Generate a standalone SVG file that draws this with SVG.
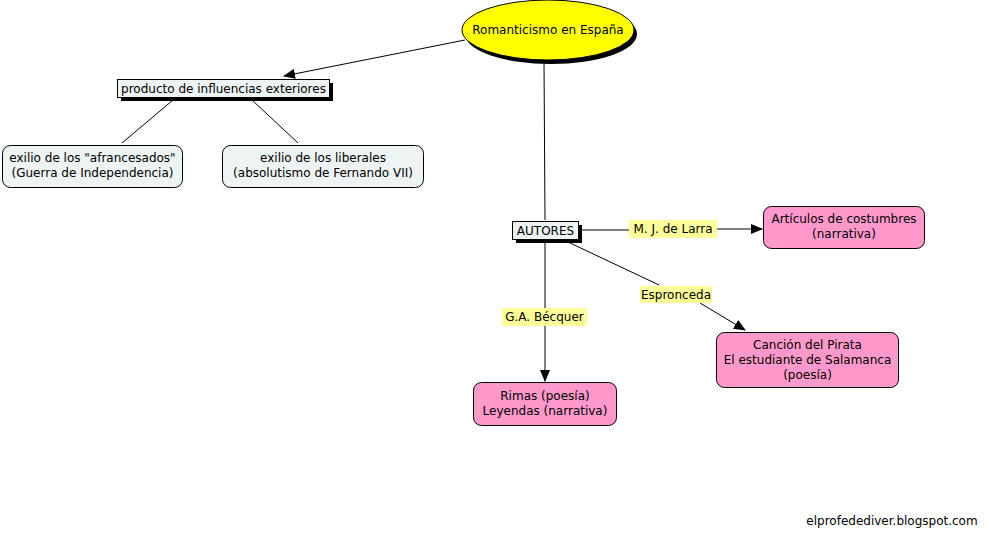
<svg xmlns="http://www.w3.org/2000/svg" width="989" height="538" viewBox="0 0 989 538">
<defs>
<marker id="ah" markerWidth="12" markerHeight="10" refX="11" refY="5" orient="auto" markerUnits="userSpaceOnUse">
<path d="M0,0 L12,5 L0,10 Z" fill="#000"/>
</marker>
<style>
text{font-family:"DejaVu Sans",Verdana,sans-serif;font-size:12px;fill:#000;text-anchor:middle}
.ln{stroke:#000;stroke-width:1;fill:none}
.sh{fill:#000}
.cl{fill:#eef4f4;stroke:#000;stroke-width:1}
.pk{fill:#ff99cc;stroke:#000;stroke-width:1}
.lb{fill:#ffff99}
</style>
</defs>
<rect width="989" height="538" fill="#fff"/>
<g id="connectors">
<line class="ln" x1="465" y1="40" x2="284" y2="76" marker-end="url(#ah)"/>
<line class="ln" x1="544" y1="62" x2="545" y2="220"/>
<line class="ln" x1="173" y1="100" x2="122" y2="143"/>
<line class="ln" x1="252" y1="100" x2="298" y2="143"/>
<line class="ln" x1="580" y1="230" x2="630" y2="230"/>
<line class="ln" x1="716" y1="229" x2="762" y2="229" marker-end="url(#ah)"/>
<line class="ln" x1="545" y1="242" x2="545" y2="308"/>
<line class="ln" x1="545" y1="326" x2="545" y2="381" marker-end="url(#ah)"/>
<line class="ln" x1="568" y1="242" x2="659" y2="285"/>
<line class="ln" x1="700" y1="303" x2="745" y2="330" marker-end="url(#ah)"/>
<g id="lbl-larra"><rect class="lb" x="629" y="220" width="88" height="18"/><text x="673" y="233">M. J. de Larra</text></g>
<g id="lbl-becquer"><rect class="lb" x="502" y="308" width="85" height="18"/><text x="544.5" y="321">G.A. Bécquer</text></g>
<g id="lbl-espronceda"><rect class="lb" x="640" y="286" width="72" height="17"/><text x="676" y="299">Espronceda</text></g>
</g>
<g id="romanticismo">
<ellipse cx="551" cy="34" rx="86" ry="30" class="sh"/>
<ellipse cx="548" cy="30" rx="86" ry="30" fill="#ffff00" stroke="#000"/>
<text x="548" y="34">Romanticismo en España</text>
</g>
<g id="producto">
<rect x="121" y="83" width="212" height="18" class="sh"/>
<rect x="117.5" y="79.5" width="212" height="18" class="cl"/>
<text x="223.5" y="93">producto de influencias exteriores</text>
</g>
<g id="afrancesados">
<rect x="2.5" y="145.5" width="180" height="42" rx="8" class="cl"/>
<text x="92.5" y="162">exilio de los "afrancesados"</text>
<text x="92.5" y="177">(Guerra de Independencia)</text>
</g>
<g id="liberales">
<rect x="222.5" y="145.5" width="201" height="42" rx="8" class="cl"/>
<text x="323" y="162">exilio de los liberales</text>
<text x="323" y="177">(absolutismo de Fernando VII)</text>
</g>
<g id="autores">
<rect x="516" y="225" width="66" height="18" class="sh"/>
<rect x="512.5" y="221.5" width="66" height="18" class="cl"/>
<text x="545.5" y="235">AUTORES</text>
</g>
<g id="articulos">
<rect x="763.5" y="206.5" width="161" height="42" rx="8" class="pk"/>
<text x="844" y="223">Artículos de costumbres</text>
<text x="844" y="238">(narrativa)</text>
</g>
<g id="rimas">
<rect x="473.5" y="382.5" width="143" height="43" rx="8" class="pk"/>
<text x="545" y="400">Rimas (poesía)</text>
<text x="545" y="415">Leyendas (narrativa)</text>
</g>
<g id="cancion">
<rect x="716.5" y="332.5" width="182" height="55" rx="8" class="pk"/>
<text x="807.5" y="349">Canción del Pirata</text>
<text x="807.5" y="364">El estudiante de Salamanca</text>
<text x="807.5" y="379">(poesía)</text>
</g>
<text x="892" y="525">elprofedediver.blogspot.com</text>
</svg>
